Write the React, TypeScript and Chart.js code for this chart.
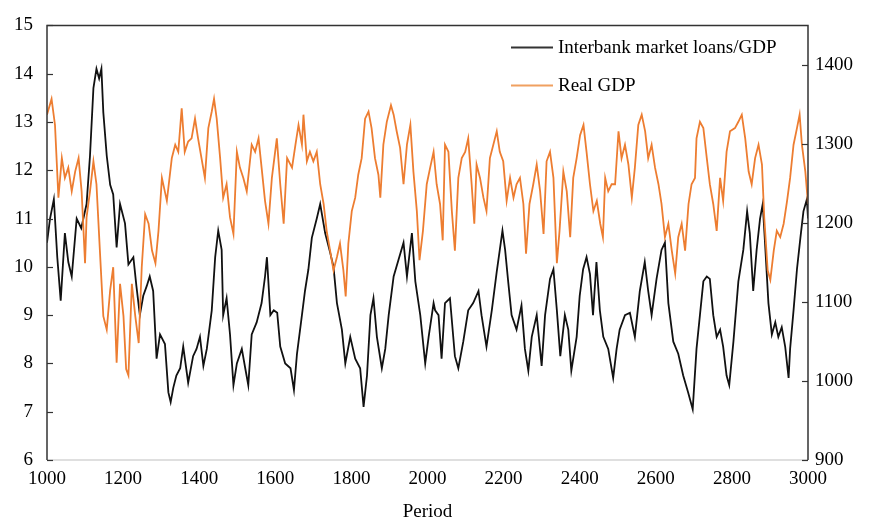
import React, { useEffect, useRef } from 'react';
import { Chart, registerables } from 'chart.js';

Chart.register(...registerables);

const loanPeriods = [
  1000, 1008, 1018, 1027, 1036, 1047, 1056, 1065, 1078, 1090, 1104, 1113, 1122, 1130, 1137, 1143, 1148, 1157, 1166, 1174,
  1183, 1192, 1205, 1214, 1227, 1235, 1244, 1253, 1262, 1270, 1279, 1288, 1297, 1310, 1319, 1325, 1332, 1340, 1350, 1358,
  1371, 1384, 1393, 1402, 1411, 1420, 1433, 1442, 1450, 1459, 1463, 1472, 1481, 1490, 1499, 1512, 1521, 1529, 1538, 1551,
  1564, 1573, 1578, 1587, 1596, 1605, 1613, 1626, 1640, 1649, 1657, 1670, 1678, 1687, 1696, 1709, 1718, 1731, 1744, 1753,
  1762, 1775, 1784, 1797, 1810, 1823, 1832, 1841, 1850, 1858, 1867, 1880, 1889, 1898, 1911, 1924, 1937, 1946, 1959, 1968,
  1981, 1994, 2003, 2016, 2020, 2029, 2037, 2046, 2059, 2072, 2081, 2094, 2107, 2120, 2134, 2142, 2155, 2169, 2182, 2190,
  2197, 2204, 2212, 2221, 2234, 2247, 2256, 2265, 2274, 2287, 2300, 2309, 2322, 2331, 2340, 2349, 2361, 2370, 2378, 2392,
  2400, 2409, 2418, 2427, 2435, 2444, 2453, 2462, 2475, 2488, 2497, 2505, 2519, 2532, 2545, 2558, 2571, 2580, 2589, 2602,
  2615, 2624, 2633, 2646, 2659, 2672, 2685, 2697, 2707, 2716, 2725, 2734, 2742, 2751, 2760, 2769, 2777, 2786, 2793, 2804,
  2817, 2830, 2840, 2847, 2856, 2865, 2874, 2881, 2887, 2896, 2905, 2914, 2922, 2931, 2940, 2949, 2953, 2962, 2971, 2980,
  2988, 2997, 3000,
];
const loanValues = [
  10.5, 11.0, 11.4, 10.2, 9.3, 10.7, 10.1, 9.8, 11.0, 10.8, 11.3, 12.3, 13.7, 14.1, 13.9, 14.1, 13.2, 12.3, 11.7, 11.5,
  10.4, 11.3, 10.9, 10.05, 10.2, 9.6, 9.0, 9.4, 9.6, 9.8, 9.5, 8.1, 8.6, 8.4, 7.4, 7.2, 7.5, 7.75, 7.9, 8.35,
  7.6, 8.15, 8.3, 8.55, 7.95, 8.3, 9.1, 10.2, 10.75, 10.35, 9.0, 9.35, 8.6, 7.55, 8.0, 8.3, 7.9, 7.55, 8.6, 8.85,
  9.25, 9.8, 10.2, 9.0, 9.1, 9.05, 8.35, 8.0, 7.9, 7.45, 8.2, 9.0, 9.5, 9.95, 10.6, 11.0, 11.3, 10.7, 10.3, 10.0,
  9.25, 8.7, 8.0, 8.55, 8.1, 7.9, 7.1, 7.75, 9.0, 9.35, 8.55, 7.9, 8.3, 9.0, 9.8, 10.15, 10.5, 9.8, 10.7, 9.7,
  9.0, 8.0, 8.55, 9.25, 9.1, 9.0, 8.1, 9.25, 9.35, 8.15, 7.9, 8.45, 9.1, 9.25, 9.5, 9.0, 8.35, 9.1, 9.9, 10.35,
  10.75, 10.35, 9.7, 9.0, 8.7, 9.2, 8.3, 7.85, 8.55, 9.0, 7.95, 9.0, 9.75, 9.95, 9.1, 8.15, 9.0, 8.7, 7.85, 8.55,
  9.4, 9.95, 10.2, 9.85, 9.0, 10.1, 9.1, 8.55, 8.3, 7.7, 8.3, 8.7, 9.0, 9.05, 8.55, 9.5, 10.1, 9.5, 9.0, 9.75,
  10.35, 10.5, 9.25, 8.45, 8.2, 7.75, 7.4, 7.05, 8.3, 9.0, 9.7, 9.8, 9.75, 9.0, 8.55, 8.7, 8.35, 7.75, 7.55, 8.45,
  9.7, 10.35, 11.15, 10.7, 9.5, 10.35, 11.0, 11.3, 10.5, 9.25, 8.6, 8.85, 8.55, 8.75, 8.35, 7.7, 8.3, 9.1, 9.95, 10.6,
  11.15, 11.4, 11.0,
];

const gdpPeriods = [
  1000, 1012, 1021, 1030, 1039, 1047, 1056, 1065, 1074, 1083, 1091, 1100, 1104, 1113, 1122, 1130, 1139, 1148, 1157, 1166,
  1174, 1183, 1192, 1201, 1208, 1214, 1223, 1232, 1241, 1249, 1258, 1267, 1276, 1285, 1293, 1302, 1315, 1328, 1337, 1345,
  1354, 1362, 1371, 1380, 1389, 1397, 1406, 1415, 1424, 1433, 1439, 1446, 1455, 1463, 1472, 1481, 1490, 1499, 1507, 1516,
  1525, 1538, 1547, 1556, 1564, 1573, 1582, 1591, 1604, 1613, 1622, 1631, 1644, 1653, 1661, 1670, 1674, 1683, 1691, 1700,
  1709, 1718, 1727, 1735, 1744, 1753, 1762, 1770, 1779, 1785, 1792, 1801, 1810, 1818, 1827, 1836, 1845, 1853, 1862, 1871,
  1876, 1884, 1893, 1904, 1911, 1919, 1928, 1937, 1946, 1955, 1963, 1972, 1979, 1988, 1998, 2007, 2016, 2024, 2033, 2040,
  2046, 2055, 2064, 2072, 2081, 2090, 2099, 2107, 2116, 2123, 2129, 2138, 2147, 2155, 2164, 2173, 2182, 2190, 2199, 2208,
  2217, 2226, 2234, 2243, 2252, 2259, 2268, 2278, 2287, 2296, 2305, 2313, 2322, 2331, 2340, 2347, 2357, 2366, 2375, 2383,
  2392, 2401, 2410, 2418, 2427, 2436, 2445, 2454, 2461, 2467, 2475, 2484, 2493, 2502, 2510, 2519, 2528, 2537, 2545, 2554,
  2563, 2572, 2580, 2589, 2598, 2607, 2615, 2624, 2633, 2642, 2651, 2659, 2668, 2677, 2686, 2694, 2703, 2707, 2716, 2725,
  2734, 2742, 2751, 2760, 2769, 2777, 2786, 2795, 2808, 2817, 2826, 2835, 2844, 2852, 2861, 2870, 2879, 2885, 2894, 2901,
  2910, 2918, 2927, 2936, 2945, 2953, 2962, 2971, 2978, 2984, 2993, 3000,
];
const gdpValues = [
  1337, 1357, 1324, 1232, 1282, 1257, 1270, 1240, 1265, 1282, 1240, 1149, 1207, 1240, 1278, 1249, 1165, 1082, 1065, 1115,
  1144, 1023, 1123, 1082, 1015, 1007, 1123, 1082, 1048, 1144, 1211, 1199, 1165, 1149, 1190, 1257, 1228, 1282, 1299, 1290,
  1345, 1290, 1303, 1307, 1332, 1307, 1282, 1257, 1320, 1341, 1357, 1332, 1282, 1232, 1249, 1207, 1186, 1290, 1270, 1257,
  1240, 1299, 1290, 1307, 1270, 1228, 1199, 1257, 1307, 1249, 1199, 1282, 1270, 1299, 1324, 1299, 1337, 1278, 1290, 1278,
  1290, 1249, 1224, 1190, 1165, 1140, 1157, 1174, 1140, 1107, 1174, 1215, 1232, 1261, 1282, 1332, 1341, 1320, 1282, 1261,
  1232, 1299, 1328, 1349, 1337, 1316, 1295, 1249, 1299, 1324, 1265, 1215, 1153, 1190, 1249, 1270, 1290, 1249, 1224, 1178,
  1299, 1290, 1215, 1165, 1257, 1282, 1290, 1307, 1249, 1199, 1274, 1257, 1232, 1215, 1282, 1299, 1316, 1290, 1278, 1228,
  1257, 1232, 1249, 1257, 1224, 1161, 1224, 1249, 1274, 1240, 1186, 1278, 1290, 1257, 1149, 1190, 1265, 1240, 1182, 1257,
  1282, 1311, 1324, 1290, 1249, 1215, 1228, 1199, 1182, 1257, 1240, 1249, 1249, 1316, 1282, 1299, 1274, 1232, 1270, 1324,
  1337, 1316, 1282, 1299, 1270, 1249, 1224, 1182, 1199, 1165, 1136, 1182, 1199, 1165, 1224, 1249, 1257, 1307, 1328, 1320,
  1282, 1249, 1224, 1190, 1257, 1228, 1290, 1316, 1320, 1328, 1337, 1307, 1265, 1249, 1282, 1299, 1274, 1207, 1140, 1128,
  1165, 1190, 1182, 1199, 1228, 1257, 1299, 1320, 1337, 1299, 1265, 1224,
];

const xTicks = [1000, 1200, 1400, 1600, 1800, 2000, 2200, 2400, 2600, 2800, 3000];
const leftTicks = [6, 7, 8, 9, 10, 11, 12, 13, 14, 15];
const rightTicks = [900, 1000, 1100, 1200, 1300, 1400];

const seriesNames = ['Interbank market loans/GDP', 'Real GDP'];
const seriesColors = ['#111111', '#ED7D31'];

export default function App() {
  const ref = useRef<HTMLCanvasElement | null>(null);

  useEffect(() => {
    document.body.style.margin = '0';
    const FONT = '"Liberation Serif", "Times New Roman", serif';
    const canvas = ref.current;
    if (!canvas) return;

    const framePlugin = {
      id: 'frameAndLegend',
      afterDatasetsDraw(chart: any) {
        const { ctx, chartArea } = chart;
        const { left, right, top, bottom } = chartArea;
        ctx.save();
        ctx.strokeStyle = '#d4d4d4';
        ctx.lineWidth = 1.5;
        ctx.beginPath();
        ctx.moveTo(left, bottom);
        ctx.lineTo(right, bottom);
        ctx.stroke();
        ctx.strokeStyle = '#333333';
        ctx.lineWidth = 1.5;
        ctx.beginPath();
        ctx.moveTo(left, bottom);
        ctx.lineTo(left, top);
        ctx.lineTo(right, top);
        ctx.lineTo(right, bottom);
        ctx.stroke();
        const yL = chart.scales.y;
        const yR = chart.scales.y1;
        ctx.lineWidth = 1.2;
        leftTicks.forEach((v) => {
          const py = Math.round(yL.getPixelForValue(v)) + 0.5;
          ctx.beginPath();
          ctx.moveTo(left, py);
          ctx.lineTo(left + 6, py);
          ctx.stroke();
        });
        rightTicks.forEach((v) => {
          const py = Math.round(yR.getPixelForValue(v)) + 0.5;
          ctx.beginPath();
          ctx.moveTo(right, py);
          ctx.lineTo(right - 6, py);
          ctx.stroke();
        });
        const lx0 = left + 464;
        const lx1 = left + 506;
        const rows = [top + 22, top + 60];
        ctx.font = `19px ${FONT}`;
        ctx.textBaseline = 'middle';
        ctx.textAlign = 'left';
        seriesNames.forEach((name, i) => {
          ctx.strokeStyle = i === 0 ? '#333333' : '#F0A060';
          ctx.lineWidth = 2;
          ctx.beginPath();
          ctx.moveTo(lx0, rows[i]);
          ctx.lineTo(lx1, rows[i]);
          ctx.stroke();
          ctx.fillStyle = '#000000';
          ctx.fillText(name, lx1 + 5, rows[i] + 1);
        });
        ctx.restore();
      },
    };

    const plain = (v: any) => String(v);

    const chart = new Chart(canvas, {
      type: 'line',
      data: {
        datasets: [
          {
            label: seriesNames[1],
            data: gdpPeriods.map((p, i) => ({ x: p, y: gdpValues[i] })),
            yAxisID: 'y1',
            borderColor: seriesColors[1],
            borderWidth: 1.8,
            pointRadius: 0,
            tension: 0,
            order: 1,
          },
          {
            label: seriesNames[0],
            data: loanPeriods.map((p, i) => ({ x: p, y: loanValues[i] })),
            yAxisID: 'y',
            borderColor: seriesColors[0],
            borderWidth: 1.8,
            pointRadius: 0,
            tension: 0,
            order: 2,
          },
        ],
      },
      options: {
        responsive: false,
        animation: false,
        layout: { padding: { top: 20, left: 0, right: 0, bottom: 0 } },
        plugins: {
          legend: { display: false },
          tooltip: { enabled: false },
        },
        scales: {
          x: {
            type: 'linear',
            min: 1000,
            max: 3000,
            afterBuildTicks: (s: any) => {
              s.ticks = xTicks.map((v) => ({ value: v }));
            },
            afterFit: (s: any) => {
              s.height = 63;
            },
            ticks: {
              font: { family: FONT, size: 19 },
              color: '#000',
              padding: 8,
              maxRotation: 0,
              autoSkip: false,
              callback: plain,
            },
            grid: { display: false, drawTicks: false },
            border: { display: false },
            title: {
              display: true,
              text: 'Period',
              font: { family: FONT, size: 19 },
              color: '#000',
              padding: { top: 7, bottom: 0 },
            },
          },
          y: {
            type: 'linear',
            position: 'left',
            min: 6,
            max: 15,
            afterBuildTicks: (s: any) => {
              s.ticks = leftTicks.map((v) => ({ value: v }));
            },
            afterFit: (s: any) => {
              s.width = 47;
            },
            ticks: {
              font: { family: FONT, size: 19 },
              color: '#000',
              padding: 14,
              callback: plain,
            },
            grid: { display: false, drawTicks: false },
            border: { display: false },
          },
          y1: {
            type: 'linear',
            position: 'right',
            min: 900,
            max: 1450,
            afterBuildTicks: (s: any) => {
              s.ticks = rightTicks.map((v) => ({ value: v }));
            },
            afterFit: (s: any) => {
              s.width = 72;
            },
            ticks: {
              font: { family: FONT, size: 19 },
              color: '#000',
              padding: 7,
              callback: plain,
            },
            grid: { display: false, drawTicks: false },
            border: { display: false },
          },
        },
      },
      plugins: [framePlugin],
    });

    return () => {
      chart.destroy();
    };
  }, []);

  return (
    <div style={{ width: 880, height: 523 }}>
      <canvas ref={ref} width={880} height={523} />
    </div>
  );
}
